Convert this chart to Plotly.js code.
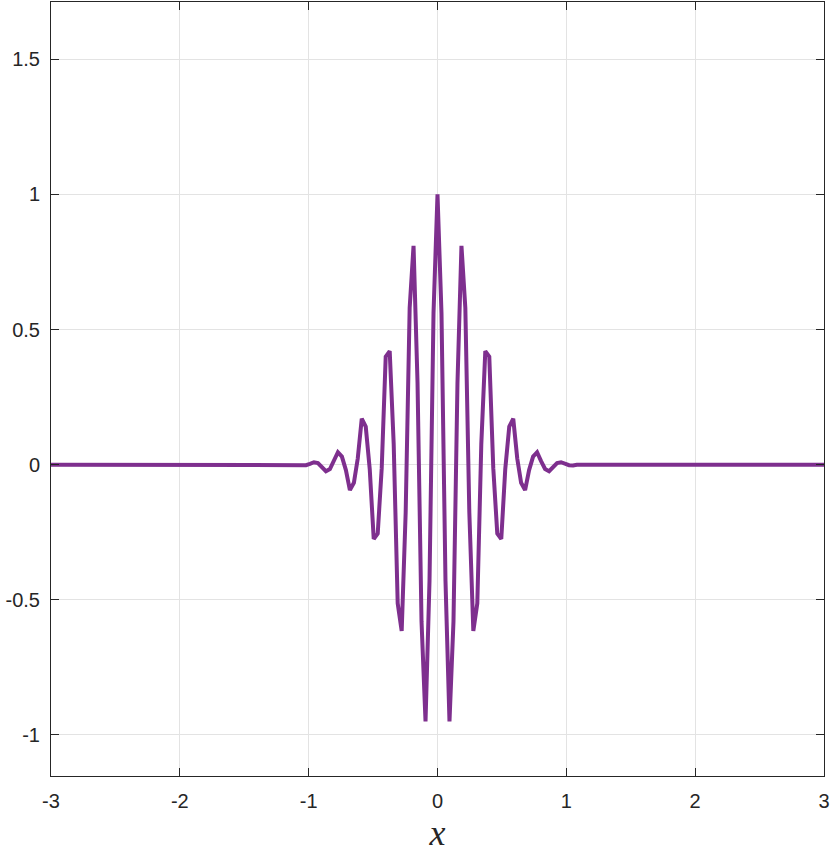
<!DOCTYPE html>
<html>
<head>
<meta charset="utf-8">
<script src="https://cdn.plot.ly/plotly-3.0.1.min.js"></script>
<style>
  html, body { margin: 0; padding: 0; background: #ffffff; }
  #chart { width: 830px; height: 853px; }
</style>
</head>
<body>
<div id="chart"></div>
<script>
// Sample positions
const xValues = [
  -3.000,
  -1.082, -1.052, -1.021, -0.990, -0.959, -0.928, -0.897, -0.866, -0.835, -0.804,
  -0.773, -0.742, -0.711, -0.680, -0.649, -0.619, -0.588, -0.557, -0.526, -0.495,
  -0.464, -0.433, -0.402, -0.371, -0.340, -0.309, -0.278, -0.247, -0.216, -0.186,
  -0.155, -0.124, -0.093, -0.062, -0.031,
  0.000,
  0.031, 0.062, 0.093, 0.124, 0.155, 0.186, 0.216, 0.247, 0.278, 0.309,
  0.340, 0.371, 0.402, 0.433, 0.464, 0.495, 0.526, 0.557, 0.588, 0.619,
  0.649, 0.680, 0.711, 0.742, 0.773, 0.804, 0.835, 0.866, 0.897, 0.928,
  0.959, 0.990, 1.021, 1.052, 1.082,
  3.000
];
// Curve values
const yValues = [
  0.000,
  0.000, -0.003, -0.002, 0.003, 0.009, 0.006, -0.008, -0.024, -0.016, 0.013,
  0.046, 0.030, -0.020, -0.094, -0.067, 0.023, 0.170, 0.141, -0.016, -0.275,
  -0.255, -0.013, 0.400, 0.420, 0.076, -0.513, -0.615, -0.176, 0.580, 0.810,
  0.302, -0.580, -0.950, -0.430, 0.560,
  1.000,
  0.560, -0.430, -0.950, -0.580, 0.302, 0.810, 0.580, -0.176, -0.615, -0.513,
  0.076, 0.420, 0.400, -0.013, -0.255, -0.275, -0.016, 0.141, 0.170, 0.023,
  -0.067, -0.094, -0.020, 0.030, 0.046, 0.013, -0.016, -0.024, -0.008, 0.006,
  0.009, 0.003, -0.002, -0.003, 0.000,
  0.000
];
const xTicks = [-3, -2, -1, 0, 1, 2, 3];
const xTickLabels = ['-3', '-2', '-1', '0', '1', '2', '3'];
const yTicks = [-1, -0.5, 0, 0.5, 1, 1.5];
const yTickLabels = ['-1', '-0.5', '0', '0.5', '1', '1.5'];

const axisColor = '#262626';
const gridColor = '#e3e3e3';

const trace = {
  x: xValues,
  y: yValues,
  type: 'scatter',
  mode: 'lines',
  line: { color: '#7E2F8E', width: 4 },
  hoverinfo: 'skip'
};

const commonAxis = {
  showline: true,
  linecolor: axisColor,
  linewidth: 1,
  mirror: 'ticks',
  ticks: 'inside',
  ticklen: 8,
  tickwidth: 1,
  tickcolor: axisColor,
  showgrid: true,
  gridcolor: gridColor,
  gridwidth: 1,
  zeroline: false,
  tickfont: { family: 'Liberation Sans, Arial, sans-serif', size: 20, color: axisColor },
  automargin: false
};

const layout = {
  width: 830,
  height: 853,
  margin: { l: 51, r: 6, t: 2, b: 77 },
  paper_bgcolor: '#ffffff',
  plot_bgcolor: '#ffffff',
  showlegend: false,
  xaxis: Object.assign({}, commonAxis, {
    range: [-3, 3],
    tickmode: 'array',
    tickvals: xTicks,
    ticktext: xTickLabels,
    ticklabelstandoff: 7,
    title: {
      text: 'x',
      font: { family: 'Liberation Serif, Times New Roman, serif', size: 36, color: axisColor, style: 'italic' },
      standoff: 17
    }
  }),
  yaxis: Object.assign({}, commonAxis, {
    range: [-1.152, 1.712],
    tickmode: 'array',
    tickvals: yTicks,
    ticktext: yTickLabels,
    ticklabelstandoff: 6
  })
};

Plotly.newPlot('chart', [trace], layout, { staticPlot: true, displayModeBar: false });
</script>
</body>
</html>
